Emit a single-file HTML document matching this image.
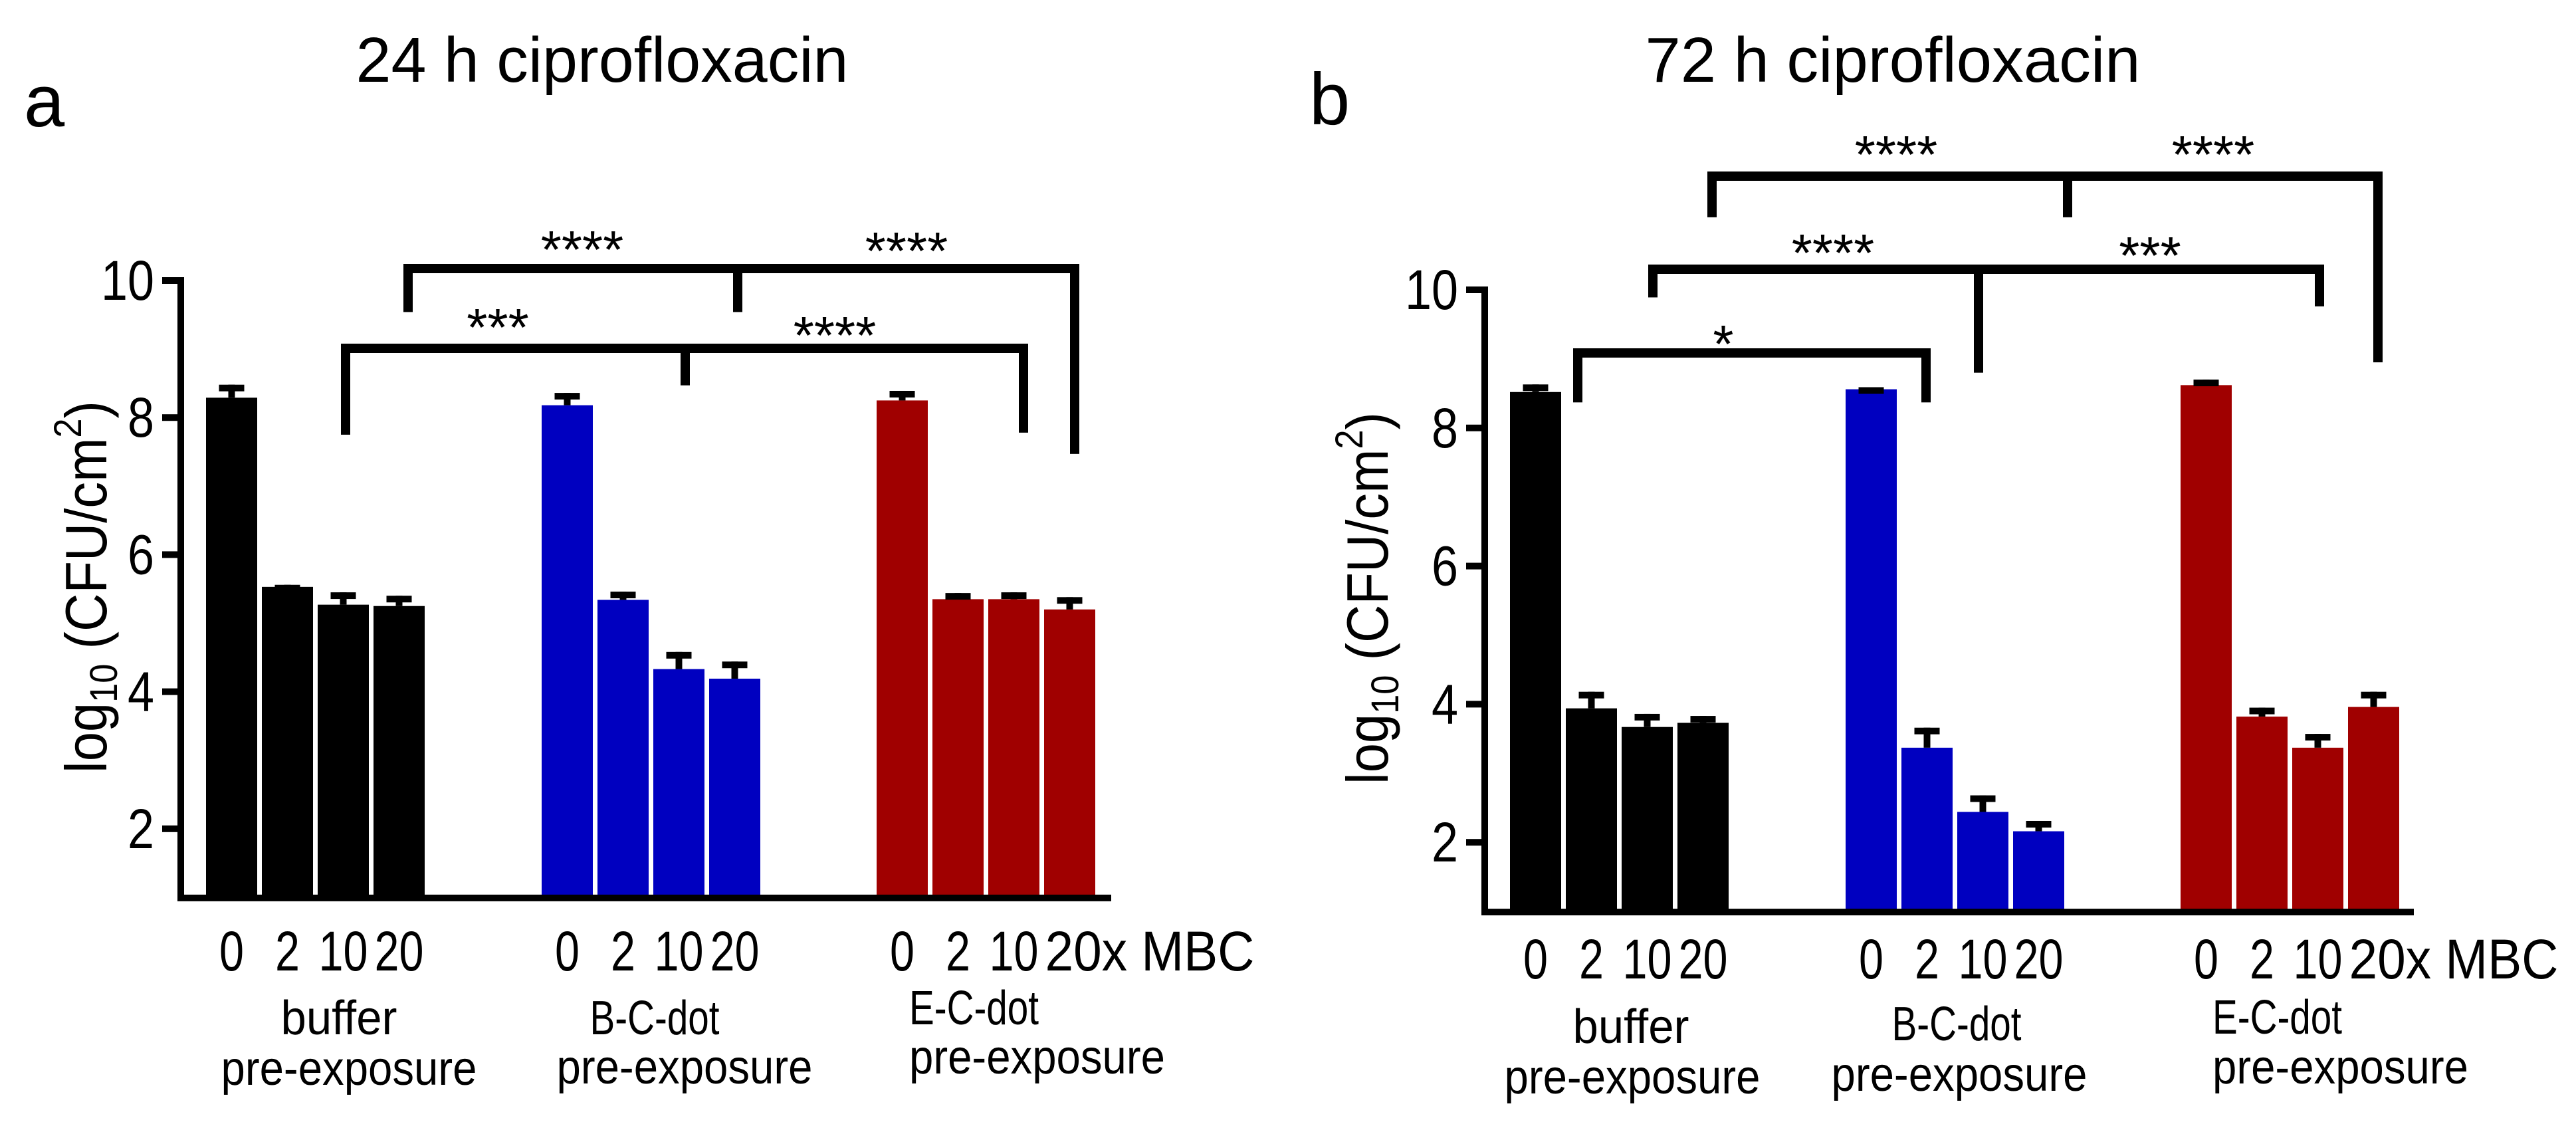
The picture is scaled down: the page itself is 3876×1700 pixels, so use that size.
<!DOCTYPE html>
<html><head><meta charset="utf-8"><style>
html,body{margin:0;padding:0;background:#fff;}
svg{display:block;font-family:"Liberation Sans",Arial,sans-serif;}
</style></head><body>
<svg id="fig" width="3876" height="1700" viewBox="0 0 3876 1700" xmlns="http://www.w3.org/2000/svg">
<text x="36" y="190" font-size="110">a</text>
<text x="1970" y="187" font-size="110">b</text>
<g id="pa"></g>
<g id="pb"></g>
</svg>
<script>
const groups = ["buffer", "B-C-dot", "E-C-dot"];
const doses = ["0", "2", "10", "20"];
const yTicks = [2, 4, 6, 8, 10];
const colors = ["#000000", "#0000C0", "#A00000"];
const valuesA = [[8.29, 5.53, 5.27, 5.25], [8.18, 5.34, 4.33, 4.19], [8.25, 5.35, 5.35, 5.20]];
const errorsA = [[0.19, 0.03, 0.18, 0.15], [0.18, 0.12, 0.25, 0.25], [0.14, 0.09, 0.10, 0.18]];
const valuesB = [[8.52, 3.94, 3.67, 3.73], [8.56, 3.37, 2.44, 2.16], [8.62, 3.82, 3.37, 3.96]];
const errorsB = [[0.11, 0.24, 0.19, 0.10], [0.03, 0.29, 0.24, 0.15], [0.08, 0.13, 0.20, 0.22]];
const sigLabelsA = [["****", "****"], ["***", "****"]];
const sigLabelsB = [["****", "****"], ["****", "***"], ["*"]];
const NS = "http://www.w3.org/2000/svg";
const svg = document.getElementById("fig");
function mk(parent, tag, attrs, txt) {
  const e = document.createElementNS(NS, tag);
  for (const k in attrs) e.setAttribute(k, attrs[k]);
  if (txt !== undefined) e.textContent = txt;
  parent.appendChild(e);
  return e;
}
function fitText(parent, x, y, str, size, width, anchor) {
  const t = mk(parent, "text", {x: 0, y: 0, "font-size": size, "text-anchor": anchor || "middle"}, str);
  const w = t.getComputedTextLength();
  const sx = width ? width / w : 1;
  t.setAttribute("transform", "translate(" + x + "," + y + ") scale(" + sx + ",1)");
  return t;
}
const ta = fitText(svg, 906, 123, "24 h ciprofloxacin", 96, 741);


const tb = fitText(svg, 2848, 123, "72 h ciprofloxacin", 96, 745);



function drawPanel(g, cfg, values, errors, sigLabels) {
  const y = v => cfg.y10 + (10 - v) * cfg.unit;
  const xLeft = (gi, bi) => cfg.axisX + cfg.groupOff[gi] + bi * 84;
  const xc = (gi, bi) => xLeft(gi, bi) + 38.5;
  const base = y(1);
  values.forEach((grp, gi) => grp.forEach((v, bi) => {
    const top = y(v), capY = y(v + errors[gi][bi]);
    const r = mk(g, "rect", {x: xLeft(gi, bi), y: top, width: 77, height: base - top, fill: colors[gi]});
    
    
    const s = mk(g, "rect", {x: xc(gi, bi) - 5, y: capY, width: 10, height: top - capY, fill: "#000"});
    
    
    const c = mk(g, "rect", {x: xc(gi, bi) - 19, y: capY, width: 38, height: 10, fill: "#000"});
    
    
  }));
  const ax = mk(g, "rect", {x: cfg.axisX - 5, y: cfg.y10 - 5, width: 10, height: base - cfg.y10 + 10, fill: "#000"});
  
  
  const xa = mk(g, "rect", {x: cfg.axisX - 5, y: base - 4, width: cfg.axisEnd - cfg.axisX + 5, height: 10, fill: "#000"});
  
  
  yTicks.forEach(t => {
    const tk = mk(g, "rect", {x: cfg.axisX - 28, y: y(t) - 5, width: 28, height: 10, fill: "#000"});
    
    
    const tl = fitText(g, cfg.axisX - 40, y(t) + 29, String(t), 84, String(t).length * 40, "end");
    
    
  });
  groups.forEach((gn, gi) => doses.forEach((d, bi) => {
    const last = gi === 2 && bi === 3;
    let t;
    if (last) t = fitText(g, xc(gi, bi) - 37, cfg.xLabY, d + "x MBC", 84, 315, "start");
    else t = fitText(g, xc(gi, bi), cfg.xLabY, d, 84, d.length * 37, "middle");
    
    
  }));
  cfg.groupLabels.forEach((gl, gi) => {
    const t1 = fitText(g, gl[0], gl[1], groups[gi], 72, gi === 0 ? 175 : 195, gl[4]);
    
    
    const t2 = fitText(g, gl[2], gl[3], "pre-exposure", 72, 385, gl[4]);
    
    
  });
  const yt = mk(g, "text", {x: 0, y: 0, "font-size": 88, "text-anchor": "middle"});
  
  
  mk(yt, "tspan", {}, "log");
  mk(yt, "tspan", {"font-size": 58, dy: 16}, "10");
  mk(yt, "tspan", {dy: -16}, " (CFU/cm");
  mk(yt, "tspan", {"font-size": 58, dy: -38}, "2");
  mk(yt, "tspan", {dy: 38}, ")");
  const yw = yt.getComputedTextLength();
  yt.setAttribute("transform", "translate(" + cfg.yTitle[0] + "," + cfg.yTitle[1] + ") rotate(-90) scale(" + (560 / yw) + ",1)");
  cfg.brackets.forEach((b, si) => {
    const hy = b.hy;
    const x1 = b.xs[0], x3 = b.xs[b.xs.length - 1];
    const h = mk(g, "rect", {x: x1 - 7, y: hy - 7, width: x3 - x1 + 14, height: 14, fill: "#000"});
    
    
    b.xs.forEach((x, k) => {
      const d = mk(g, "rect", {x: x - 7, y: hy - 7, width: 14, height: y(b.ends[k]) - hy + 7, fill: "#000"});
      
      
    });
    sigLabels[si].forEach((lab, k) => {
      const p = b.stars[k];
      const t = mk(g, "text", {x: p[0], y: p[1], "font-size": 80, "text-anchor": "middle"}, lab);
      
      
    });
  });
}
drawPanel(document.getElementById("pa"), {
  axisX: 272, axisEnd: 1672, y10: 422, unit: 103.1, groupOff: [38, 543, 1047], xLabY: 1460,
  groupLabels: [[510, 1556, 525, 1632, "middle"], [985, 1556, 1030, 1630, "middle"], [1368, 1541, 1368, 1615, "start"]],
  yTitle: [160, 883],
  brackets: [
    {hy: 404, xs: [614, 1110, 1617], ends: [9.54, 9.54, 7.47], stars: [[876, 403], [1364, 405]]},
    {hy: 524, xs: [520, 1031, 1540], ends: [7.75, 8.47, 7.78], stars: [[749, 520], [1256, 532]]}
  ]
}, valuesA, errorsA, sigLabelsA);
drawPanel(document.getElementById("pb"), {
  axisX: 2234, axisEnd: 3632, y10: 436, unit: 103.9, groupOff: [38, 543, 1047], xLabY: 1472,
  groupLabels: [[2454, 1569, 2456, 1645, "middle"], [2944, 1565, 2948, 1641, "middle"], [3329, 1555, 3329, 1630, "start"]],
  yTitle: [2088, 900],
  brackets: [
    {hy: 265, xs: [2576, 3111, 3578], ends: [11.05, 11.05, 8.95], stars: [[2853, 260], [3330, 260]]},
    {hy: 405, xs: [2487, 2977, 3490], ends: [9.89, 8.8, 9.76], stars: [[2758, 408], [3235, 412]]},
    {hy: 531, xs: [2374, 2898], ends: [8.37, 8.37], stars: [[2593, 545]]}
  ]
}, valuesB, errorsB, sigLabelsB);
</script>
</body></html>
